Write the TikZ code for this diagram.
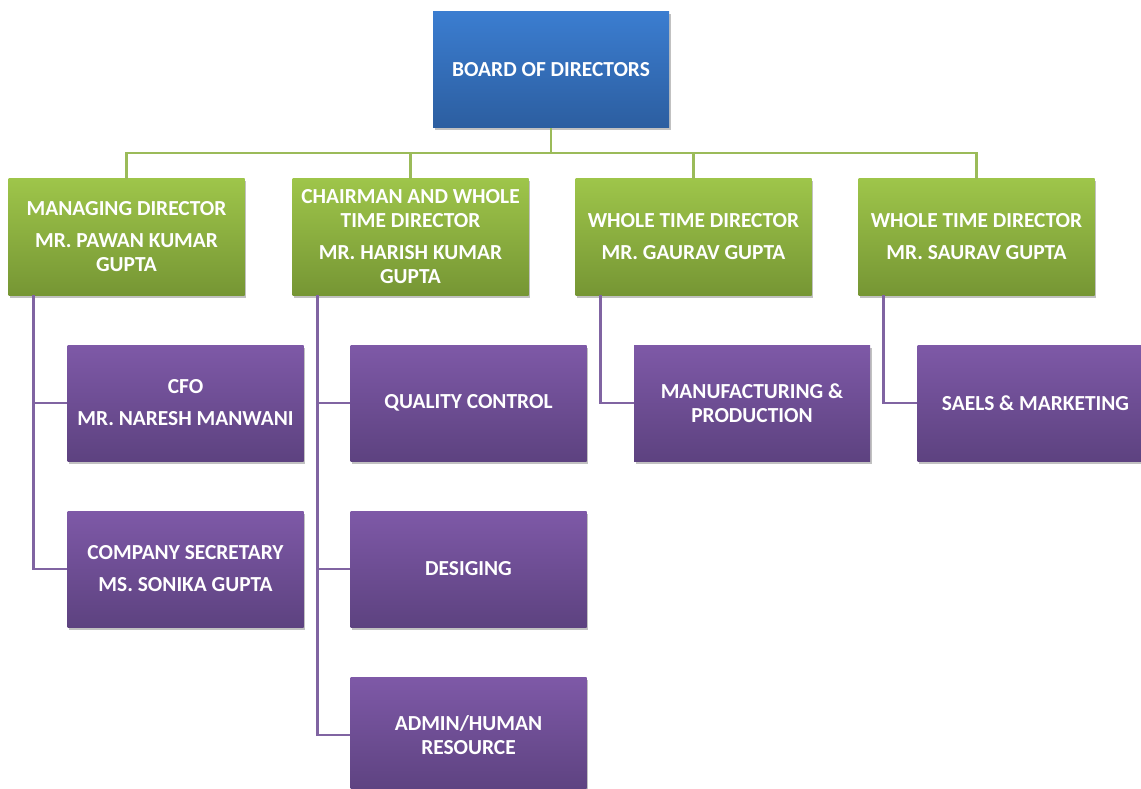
\documentclass[tikz,border=0pt]{standalone}
\usepackage{fontspec}
\setmainfont{Carlito}
\usetikzlibrary{shadows}
\definecolor{bluetop}{RGB}{59,125,208}
\definecolor{bluebot}{RGB}{44,94,160}
\definecolor{greentop}{RGB}{158,197,74}
\definecolor{greenbot}{RGB}{118,150,52}
\definecolor{purptop}{RGB}{126,89,167}
\definecolor{purpbot}{RGB}{93,66,128}
\definecolor{gline}{RGB}{155,187,89}
\definecolor{pline}{RGB}{128,100,162}
\tikzset{
  box/.style={rectangle, minimum width=236pt, minimum height=116pt, inner sep=0pt,
    align=center, text=white, font=\bfseries\fontsize{21.4}{24}\selectfont,
    drop shadow={shadow xshift=1.5pt, shadow yshift=-2.5pt, opacity=.35, fill=black!70}},
  bodbox/.style={box, top color=bluetop, bottom color=bluebot},
  dirbox/.style={box, top color=greentop, bottom color=greenbot},
  deptbox/.style={box, top color=purptop, bottom color=purpbot},
  gconn/.style={draw=gline, line width=2.6pt},
  pconn/.style={draw=pline, line width=2.6pt},
}
\begin{document}
\begin{tikzpicture}[x=1pt,y=-1pt]
\useasboundingbox (0,0) rectangle (1141,789);
\clip (0,0) rectangle (1141,789);
% top
\node[bodbox] (bod) at (551,70) {BOARD OF DIRECTORS};
% directors
\node[dirbox] (md) at (126.5,237) {MANAGING DIRECTOR\\[8pt]MR. PAWAN KUMAR\\GUPTA};
\node[dirbox] (ch) at (410.5,237) {CHAIRMAN AND WHOLE\\TIME DIRECTOR\\[8pt]MR. HARISH KUMAR\\GUPTA};
\node[dirbox] (gg) at (693.5,237) {WHOLE TIME DIRECTOR\\[8pt]MR. GAURAV GUPTA};
\node[dirbox] (sg) at (976.5,237) {WHOLE TIME DIRECTOR\\[8pt]MR. SAURAV GUPTA};
% departments
\node[deptbox] (cfo) at (185.5,403) {CFO\\[8pt]MR. NARESH MANWANI};
\node[deptbox] (cs) at (185.5,569) {COMPANY SECRETARY\\[8pt]MS. SONIKA GUPTA};
\node[deptbox] (qc) at (468.5,403) {QUALITY CONTROL};
\node[deptbox] (des) at (468.5,569) {DESIGING};
\node[deptbox] (adm) at (468.5,735) {ADMIN/HUMAN\\RESOURCE};
\node[deptbox] (mfg) at (752,403) {MANUFACTURING \&\\PRODUCTION};
\node[deptbox] (sal) at (1035.5,403) {SAELS \& MARKETING};
% green connectors
\coordinate (bus) at (551,153);
\path[gconn] (bod.south) -- (bus);
\path[gconn] (bus) -| (md.north);
\path[gconn] (bus) -| (ch.north);
\path[gconn] (bus) -| (gg.north);
\path[gconn] (bus) -| (sg.north);
% purple connectors
\coordinate (mdt) at ([xshift=25pt]md.south west);
\coordinate (cht) at ([xshift=25pt]ch.south west);
\coordinate (ggt) at ([xshift=25pt]gg.south west);
\coordinate (sgt) at ([xshift=25pt]sg.south west);
\path[pconn] (mdt) |- (cfo.west);
\path[pconn] (mdt) |- (cs.west);
\path[pconn] (cht) |- (qc.west);
\path[pconn] (cht) |- (des.west);
\path[pconn] (cht) |- (adm.west);
\path[pconn] (ggt) |- (mfg.west);
\path[pconn] (sgt) |- (sal.west);
\end{tikzpicture}
\end{document}
